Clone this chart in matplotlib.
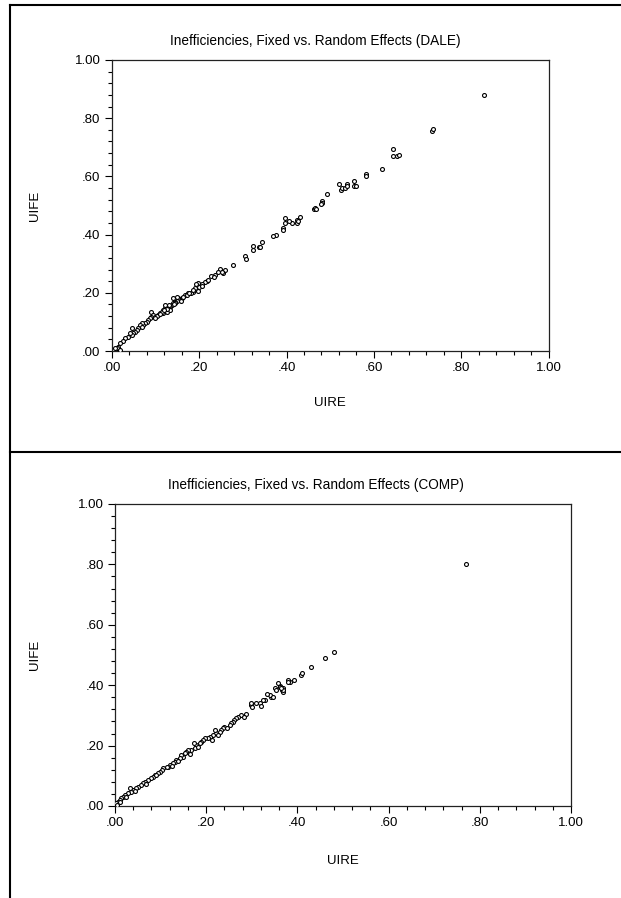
import matplotlib
matplotlib.use("Agg")
import matplotlib.pyplot as plt
from matplotlib.lines import Line2D
from matplotlib.ticker import MultipleLocator, FixedLocator, FixedFormatter

plt.rcParams["font.family"] = ["Liberation Sans", "DejaVu Sans"]

tick_values = [0.0, 0.2, 0.4, 0.6, 0.8, 1.0]
tick_labels = [".00", ".20", ".40", ".60", ".80", "1.00"]

# DALE model: random-effects vs fixed-effects inefficiencies
dale_uire = [0.852, 0.732, 0.736, 0.643, 0.643, 0.654, 0.657, 0.618, 0.581, 0.583,
             0.554, 0.554, 0.558, 0.521, 0.525, 0.528, 0.535, 0.538, 0.539, 0.493,
             0.481, 0.482, 0.480, 0.463, 0.466, 0.467, 0.431, 0.423, 0.423, 0.427,
             0.413, 0.406, 0.397, 0.397, 0.393, 0.393, 0.375, 0.370, 0.343, 0.337,
             0.339, 0.324, 0.324, 0.305, 0.307, 0.277, 0.259, 0.248, 0.255, 0.252,
             0.244, 0.236, 0.227, 0.235, 0.217, 0.213, 0.221, 0.206, 0.200, 0.198,
             0.194, 0.191, 0.197, 0.206, 0.187, 0.181, 0.175, 0.168, 0.160, 0.156,
             0.152, 0.149, 0.145, 0.141, 0.137, 0.133, 0.130, 0.126, 0.122, 0.118,
             0.114, 0.111, 0.107, 0.130, 0.141, 0.149, 0.126, 0.118, 0.133, 0.122,
             0.091, 0.095, 0.091, 0.099, 0.088, 0.084, 0.080, 0.076, 0.072, 0.069,
             0.065, 0.069, 0.061, 0.057, 0.053, 0.049, 0.047, 0.046, 0.042, 0.038,
             0.030, 0.027, 0.019, 0.015, 0.011, 0.019, 0.008, 0.103, 0.115, 0.127,
             0.145, 0.163, 0.172, 0.185, 0.178, 0.110, 0.120, 0.158, 0.143, 0.098]
dale_uife = [0.879, 0.756, 0.763, 0.695, 0.669, 0.669, 0.675, 0.625, 0.609, 0.602,
             0.584, 0.568, 0.568, 0.575, 0.554, 0.561, 0.561, 0.575, 0.568, 0.541,
             0.515, 0.509, 0.504, 0.489, 0.492, 0.488, 0.462, 0.450, 0.441, 0.446,
             0.441, 0.447, 0.458, 0.441, 0.424, 0.415, 0.400, 0.394, 0.376, 0.359,
             0.356, 0.361, 0.347, 0.327, 0.316, 0.296, 0.278, 0.283, 0.267, 0.273,
             0.273, 0.261, 0.258, 0.253, 0.241, 0.238, 0.244, 0.230, 0.221, 0.235,
             0.229, 0.215, 0.207, 0.223, 0.204, 0.200, 0.198, 0.192, 0.181, 0.175,
             0.181, 0.173, 0.169, 0.164, 0.158, 0.152, 0.147, 0.143, 0.149, 0.141,
             0.135, 0.130, 0.124, 0.158, 0.181, 0.187, 0.135, 0.130, 0.141, 0.158,
             0.135, 0.124, 0.118, 0.118, 0.112, 0.107, 0.101, 0.095, 0.089, 0.097,
             0.089, 0.084, 0.078, 0.072, 0.066, 0.061, 0.078, 0.055, 0.061, 0.049,
             0.044, 0.035, 0.026, 0.015, 0.009, 0.003, 0.009, 0.121, 0.133, 0.146,
             0.164, 0.186, 0.194, 0.210, 0.201, 0.128, 0.140, 0.172, 0.160, 0.112]

# COMP model
comp_uire = [0.770, 0.480, 0.461, 0.430, 0.408, 0.411, 0.393, 0.384, 0.380, 0.368,
             0.366, 0.362, 0.369, 0.379, 0.357, 0.361, 0.350, 0.354, 0.368, 0.365,
             0.343, 0.339, 0.334, 0.328, 0.325, 0.317, 0.310, 0.299, 0.300, 0.298,
             0.288, 0.276, 0.270, 0.266, 0.262, 0.259, 0.255, 0.252, 0.240, 0.237,
             0.233, 0.230, 0.222, 0.219, 0.215, 0.208, 0.204, 0.197, 0.193, 0.189,
             0.186, 0.178, 0.175, 0.173, 0.167, 0.160, 0.156, 0.153, 0.149, 0.145,
             0.142, 0.134, 0.131, 0.127, 0.120, 0.116, 0.113, 0.105, 0.102, 0.098,
             0.094, 0.087, 0.083, 0.080, 0.072, 0.065, 0.061, 0.058, 0.050, 0.047,
             0.039, 0.036, 0.032, 0.029, 0.021, 0.018, 0.014, 0.010, 0.007, 0.003,
             0.005, 0.246, 0.226, 0.212, 0.182, 0.164, 0.138, 0.124, 0.091, 0.069,
             0.044, 0.025, 0.012, 0.283, 0.320, 0.347]
comp_uife = [0.801, 0.511, 0.489, 0.461, 0.434, 0.439, 0.417, 0.412, 0.417, 0.390,
             0.384, 0.397, 0.378, 0.412, 0.406, 0.395, 0.390, 0.384, 0.384, 0.390,
             0.362, 0.368, 0.371, 0.351, 0.351, 0.340, 0.340, 0.334, 0.327, 0.340,
             0.305, 0.301, 0.296, 0.290, 0.285, 0.279, 0.274, 0.268, 0.263, 0.257,
             0.252, 0.246, 0.241, 0.252, 0.235, 0.230, 0.224, 0.224, 0.219, 0.213,
             0.208, 0.202, 0.191, 0.208, 0.185, 0.185, 0.180, 0.174, 0.163, 0.169,
             0.158, 0.152, 0.147, 0.141, 0.136, 0.130, 0.130, 0.125, 0.119, 0.114,
             0.108, 0.103, 0.097, 0.092, 0.086, 0.081, 0.075, 0.070, 0.064, 0.059,
             0.053, 0.047, 0.059, 0.042, 0.036, 0.031, 0.025, 0.020, 0.014, 0.009,
             0.002, 0.259, 0.236, 0.220, 0.195, 0.172, 0.148, 0.131, 0.101, 0.074,
             0.051, 0.031, 0.014, 0.295, 0.332, 0.360]

# (title, x, y, axes rect in pixels: left, top, width, height, xlabel offset)
panels = [
    ("Inefficiencies, Fixed vs. Random Effects (DALE)", dale_uire, dale_uife,
     (111.7, 60, 437, 291, 46)),
    ("Inefficiencies, Fixed vs. Random Effects (COMP)", comp_uire, comp_uife,
     (115, 504, 456, 302, 49)),
]

W, H = 621, 898
fig = plt.figure(figsize=(W / 100, H / 100), dpi=100)

for title, xs, ys, (left, top, w, h, xoff) in panels:
    ax = fig.add_axes([left / W, (H - top - h) / H, w / W, h / H])
    ax.scatter(xs, ys, s=8, facecolors="white", edgecolors="black", linewidths=0.8, zorder=3)
    ax.set_xlim(0, 1)
    ax.set_ylim(0, 1)
    for axis in (ax.xaxis, ax.yaxis):
        axis.set_major_locator(FixedLocator(tick_values))
        axis.set_major_formatter(FixedFormatter(tick_labels))
        axis.set_minor_locator(MultipleLocator(0.04))
    ax.tick_params(which="major", direction="out", length=5, width=0.8, labelsize=9.5, pad=3)
    ax.tick_params(which="minor", direction="out", length=3, width=0.8)
    for sp in ax.spines.values():
        sp.set_linewidth(0.9)
        sp.set_color("#222222")
    t = ax.set_title(title, fontsize=9.8, pad=11)
    # title is centred on the whole panel, not on the plotting box
    t.set_x((315.5 - left) / w)
    ax.set_xlabel("UIRE", fontsize=9.5)
    ax.set_ylabel("UIFE", fontsize=9.5)
    ax.xaxis.set_label_coords(0.5, -xoff / h)
    ax.yaxis.set_label_coords(-(left - 41) / w, 0.5)

# frame lines around the panels
fig.add_artist(Line2D([10 / W, 10 / W], [0, 893 / H], color="black", lw=1.5))
fig.add_artist(Line2D([10 / W, 1], [893 / H, 893 / H], color="black", lw=1.5))
fig.add_artist(Line2D([10 / W, 1], [446 / H, 446 / H], color="black", lw=1.5))

fig.savefig("out.png", dpi=100)
